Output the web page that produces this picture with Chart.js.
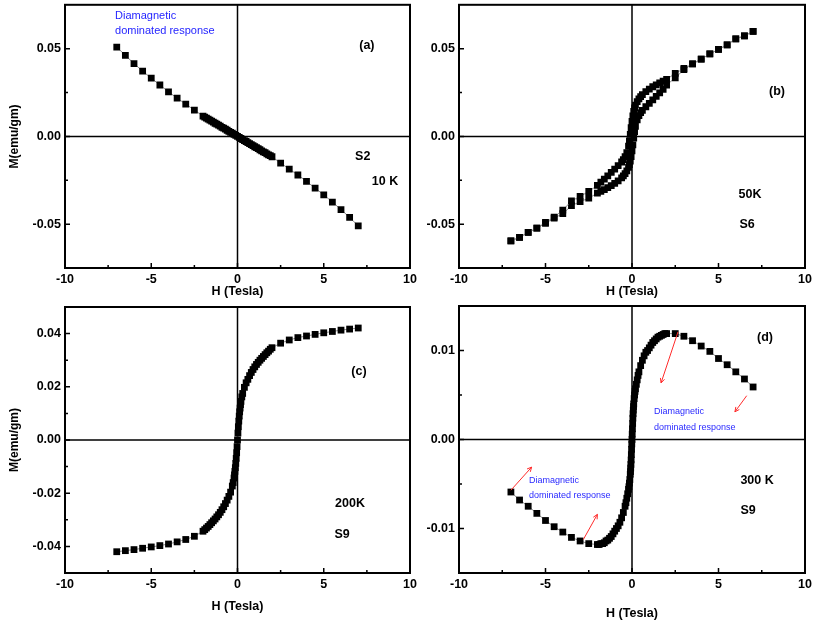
<!DOCTYPE html>
<html><head><meta charset="utf-8">
<script src="https://cdn.jsdelivr.net/npm/chart.js@4/dist/chart.umd.min.js"></script>
<style>
html,body{margin:0;padding:0;background:#fff;}
#wrap{position:relative;width:813px;height:623px;background:#fff;}
canvas{position:absolute;left:0;top:0;}
</style></head><body><div id="wrap">
<canvas id="ca" width="813" height="623"></canvas>
<canvas id="cb" width="813" height="623"></canvas>
<canvas id="cc" width="813" height="623"></canvas>
<canvas id="cd" width="813" height="623"></canvas>
</div>
<script>
// ---------- tick labels ----------
const xTicks = [-10, -5, 0, 5, 10];
const xTickLabels = ['-10', '-5', '0', '5', '10'];
const xMinorTicks = [-7.5, -2.5, 2.5, 7.5];

const abTicksY = [-0.05, 0, 0.05];
const abTickLabelsY = ['-0.05', '0.00', '0.05'];
const abMinorY = [-0.025, 0.025];

const cTicksY = [-0.04, -0.02, 0, 0.02, 0.04];
const cTickLabelsY = ['-0.04', '-0.02', '0.00', '0.02', '0.04'];
const cMinorY = [-0.03, -0.01, 0.01, 0.03];

const dTicksY = [-0.01, 0, 0.01];
const dTickLabelsY = ['-0.01', '0.00', '0.01'];
const dMinorY = [-0.005, 0.005];

// ---------- (a) S2, 10 K ----------
const aH = [-7,-6.5,-6,-5.5,-5,-4.5,-4,-3.5,-3,-2.5,-2,
  -1.9,-1.8,-1.7,-1.6,-1.5,-1.4,-1.3,-1.2,-1.1,-1,-0.9,-0.8,-0.7,-0.6,-0.5,-0.4,-0.3,-0.2,-0.1,
  0,0.1,0.2,0.3,0.4,0.5,0.6,0.7,0.8,0.9,1,1.1,1.2,1.3,1.4,1.5,1.6,1.7,1.8,1.9,
  2,2.5,3,3.5,4,4.5,5,5.5,6,6.5,7];
const aM = [0.0509,0.0462,0.0415,0.0372,0.0332,0.0293,0.0254,0.0218,0.0184,0.0150,0.0116,
  0.0110,0.0104,0.0098,0.0093,0.0087,0.0081,0.0075,0.0070,0.0064,0.0058,0.0052,0.0047,0.0041,0.0035,0.0029,0.0023,0.0018,0.0012,0.0006,
  0.0000,-0.0006,-0.0012,-0.0018,-0.0024,-0.0029,-0.0035,-0.0041,-0.0047,-0.0053,-0.0059,-0.0064,-0.0070,-0.0076,-0.0082,-0.0088,-0.0093,-0.0099,-0.0105,-0.0110,
  -0.0116,-0.0152,-0.0186,-0.0220,-0.0256,-0.0295,-0.0333,-0.0374,-0.0417,-0.0462,-0.0510];

// ---------- (b) S6, 50K (descending and ascending branches) ----------
const bDownH = [7,6.5,6,5.5,5,4.5,4,3.5,3,2.5,2,1.8,1.6,1.4,1.2,1,0.8,0.6,
  0.5,0.4,0.3,0.2,0.15,0.1,0.05,0,-0.05,-0.1,-0.15,-0.2,-0.3,-0.4,-0.5,-0.6,
  -0.8,-1,-1.2,-1.4,-1.6,-1.8,-2,-2.5,-3,-3.5,-4,-4.5,-5,-5.5,-6,-6.5,-7];
const bDownM = [0.0598,0.0573,0.0556,0.0522,0.0496,0.0470,0.0440,0.0413,0.0387,0.0359,0.0325,0.0315,0.0305,0.0294,0.0283,0.0270,0.0255,0.0238,
  0.0227,0.0214,0.0198,0.0178,0.0163,0.0143,0.0117,0.0085,0.0050,0.0012,-0.0025,-0.0055,-0.0092,-0.0116,-0.0133,-0.0146,
  -0.0167,-0.0186,-0.0205,-0.0225,-0.0243,-0.0261,-0.0279,-0.0314,-0.0342,-0.0368,-0.0420,-0.0460,-0.0490,-0.0523,-0.0547,-0.0575,-0.0596];
const bUpH = [-7,-6.5,-6,-5.5,-5,-4.5,-4,-3.5,-3,-2.5,-2,-1.8,-1.6,-1.4,-1.2,-1,-0.8,-0.6,
  -0.5,-0.4,-0.3,-0.2,-0.15,-0.1,-0.05,0,0.05,0.1,0.15,0.2,0.3,0.4,0.5,0.6,
  0.8,1,1.2,1.4,1.6,1.8,2,2.5,3,3.5,4,4.5,5,5.5,6,6.5,7];
const bUpM = [-0.0596,-0.0575,-0.0547,-0.0523,-0.0495,-0.0466,-0.0440,-0.0395,-0.0372,-0.0352,-0.0323,-0.0313,-0.0303,-0.0292,-0.0281,-0.0268,-0.0253,-0.0236,
  -0.0225,-0.0212,-0.0196,-0.0176,-0.0161,-0.0141,-0.0115,-0.0083,-0.0048,-0.0010,0.0027,0.0057,0.0094,0.0118,0.0135,0.0148,
  0.0169,0.0188,0.0208,0.0228,0.0248,0.0268,0.0293,0.0334,0.0380,0.0413,0.0440,0.0470,0.0496,0.0522,0.0556,0.0573,0.0598];

// ---------- (c) S9, 200K ----------
const cH = [-7,-6.5,-6,-5.5,-5,-4.5,-4,-3.5,-3,-2.5,-2,
  -1.9,-1.8,-1.7,-1.6,-1.5,-1.4,-1.3,-1.2,-1.1,-1,-0.9,-0.8,-0.7,-0.6,-0.5,-0.4,-0.3,
  -0.25,-0.2,-0.175,-0.15,-0.125,-0.1,-0.075,-0.05,-0.025,0,0.025,0.05,0.075,0.1,0.125,0.15,0.175,0.2,0.25,
  0.3,0.4,0.5,0.6,0.7,0.8,0.9,1,1.1,1.2,1.3,1.4,1.5,1.6,1.7,1.8,1.9,
  2,2.5,3,3.5,4,4.5,5,5.5,6,6.5,7];
const cM = [-0.0420,-0.0416,-0.0412,-0.0407,-0.0402,-0.0397,-0.0391,-0.0383,-0.0374,-0.0362,-0.0343,
  -0.0337,-0.0331,-0.0325,-0.0318,-0.0311,-0.0304,-0.0297,-0.0289,-0.0281,-0.0272,-0.0262,-0.0251,-0.0239,-0.0226,-0.0212,-0.0196,-0.0173,
  -0.0160,-0.0143,-0.0131,-0.0118,-0.0104,-0.0088,-0.0069,-0.0048,-0.0025,0.0000,0.0026,0.0050,0.0071,0.0090,0.0106,0.0120,0.0133,0.0145,0.0162,
  0.0175,0.0198,0.0215,0.0228,0.0242,0.0254,0.0265,0.0275,0.0284,0.0292,0.0300,0.0307,0.0314,0.0321,0.0328,0.0334,0.0341,
  0.0347,0.0364,0.0376,0.0385,0.0391,0.0397,0.0403,0.0408,0.0413,0.0417,0.0421];

// ---------- (d) S9, 300 K ----------
const dH = [-7,-6.5,-6,-5.5,-5,-4.5,-4,-3.5,-3,-2.5,-2,
  -1.9,-1.8,-1.7,-1.6,-1.5,-1.4,-1.3,-1.2,-1.1,-1,-0.9,-0.8,-0.7,-0.6,-0.5,
  -0.4,-0.35,-0.3,-0.25,-0.2,-0.175,-0.15,-0.125,-0.1,-0.0875,-0.075,-0.0625,-0.05,-0.0375,-0.025,-0.0125,0,
  0.0125,0.025,0.0375,0.05,0.0625,0.075,0.0875,0.1,0.125,0.15,0.175,0.2,0.25,0.3,0.35,0.4,
  0.5,0.6,0.7,0.8,0.9,1,1.1,1.2,1.3,1.4,1.5,1.6,1.7,1.8,1.9,
  2,2.5,3,3.5,4,4.5,5,5.5,6,6.5,7];
const dM = [-0.0059,-0.0068,-0.0075,-0.0083,-0.0091,-0.0098,-0.0104,-0.0110,-0.0114,-0.0117,-0.0118,
  -0.0118,-0.0117,-0.0117,-0.0116,-0.0114,-0.0113,-0.0111,-0.0109,-0.0106,-0.0103,-0.0100,-0.0097,-0.0093,-0.0088,-0.0082,
  -0.0075,-0.0071,-0.0066,-0.0061,-0.0056,-0.0053,-0.0049,-0.0045,-0.0039,-0.0036,-0.0032,-0.0028,-0.0023,-0.0017,-0.0011,-0.0005,0.0000,
  0.0006,0.0012,0.0018,0.0024,0.0029,0.0033,0.0037,0.0040,0.0046,0.0050,0.0054,0.0057,0.0062,0.0067,0.0072,0.0076,
  0.0083,0.0089,0.0094,0.0098,0.0100,0.0103,0.0106,0.0109,0.0111,0.0113,0.0115,0.0116,0.0117,0.0118,0.0119,
  0.0119,0.0119,0.0116,0.0111,0.0105,0.0099,0.0091,0.0084,0.0076,0.0068,0.0059];

// ---------- annotations (text, anchored in data coordinates) ----------
const aNotes = [
  {t:'Diamagnetic', x:-7.1, y:0.0684, kind:'blueA'},
  {t:'dominated response', x:-7.1, y:0.0600, kind:'blueA'},
  {t:'(a)', x:7.5, y:0.0518}, {t:'S2', x:7.26, y:-0.0116}, {t:'10 K', x:8.55, y:-0.026}
];
const bNotes = [
  {t:'(b)', x:8.38, y:0.0255}, {t:'50K', x:6.82, y:-0.033}, {t:'S6', x:6.65, y:-0.0505}
];
const cNotes = [
  {t:'(c)', x:7.04, y:0.0256}, {t:'200K', x:6.52, y:-0.024}, {t:'S9', x:6.06, y:-0.0357}
];
const dNotes = [
  {t:'(d)', x:7.69, y:0.0114},
  {t:'Diamagnetic', x:1.27, y:0.0032, kind:'blueD'},
  {t:'dominated response', x:1.27, y:0.0014, kind:'blueD'},
  {t:'Diamagnetic', x:-5.95, y:-0.0046, kind:'blueD'},
  {t:'dominated response', x:-5.95, y:-0.0063, kind:'blueD'},
  {t:'300 K', x:7.23, y:-0.0046}, {t:'S9', x:6.71, y:-0.008}
];
const dArrows = [
  [2.66, 0.0121, 1.68, 0.00636],
  [6.63, 0.00492, 5.95, 0.00311],
  [-7.0, -0.0057, -5.8, -0.0031],
  [-2.81, -0.01123, -2.0, -0.00841]
];

// ---------- drawing ----------
const FONT = '"Liberation Sans", Arial, Helvetica, sans-serif';
const YW = 60;

const panels = [
  {id:'ca', area:[65,1,410,268], xh:31, yMin:-0.075, yMax:0.075, yTicks:abTicksY, yLabels:abTickLabelsY, yMinor:abMinorY, yTitle:true,
   series:[[aH,aM]], notes:aNotes, arrows:[]},
  {id:'cb', area:[459,1,805,268], xh:31, yMin:-0.075, yMax:0.075, yTicks:abTicksY, yLabels:abTickLabelsY, yMinor:abMinorY, yTitle:false,
   series:[[bDownH,bDownM],[bUpH,bUpM]], notes:bNotes, arrows:[]},
  {id:'cc', area:[65,307,410,573], xh:41, yMin:-0.05, yMax:0.05, yTicks:cTicksY, yLabels:cTickLabelsY, yMinor:cMinorY, yTitle:true,
   series:[[cH,cM]], notes:cNotes, arrows:[]},
  {id:'cd', area:[459,306,805,573], xh:48, yMin:-0.015, yMax:0.015, yTicks:dTicksY, yLabels:dTickLabelsY, yMinor:dMinorY, yTitle:false,
   series:[[dH,dM]], notes:dNotes, arrows:dArrows}
];

function makePlugin(p) {
  return {
    id: 'frame_' + p.id,
    beforeDatasetsDraw(chart) {
      const {ctx, chartArea: ca, scales: {x, y}} = chart;
      ctx.save();
      ctx.strokeStyle = '#000';
      ctx.lineWidth = 1.5;
      const x0 = x.getPixelForValue(0), y0 = y.getPixelForValue(0);
      ctx.beginPath();
      ctx.moveTo(x0, ca.top); ctx.lineTo(x0, ca.bottom);
      ctx.moveTo(ca.left, y0); ctx.lineTo(ca.right, y0);
      ctx.stroke();
      ctx.restore();
    },
    afterDatasetsDraw(chart) {
      const {ctx, chartArea: ca, scales: {x, y}} = chart;
      ctx.save();
      ctx.strokeStyle = '#000';
      ctx.lineWidth = 2;
      ctx.strokeRect(ca.left, ca.top, ca.right - ca.left, ca.bottom - ca.top);
      ctx.lineWidth = 1.5;
      ctx.beginPath();
      xTicks.forEach(v => { const px = x.getPixelForValue(v); ctx.moveTo(px, ca.bottom); ctx.lineTo(px, ca.bottom - 5); });
      xMinorTicks.forEach(v => { const px = x.getPixelForValue(v); ctx.moveTo(px, ca.bottom); ctx.lineTo(px, ca.bottom - 3); });
      p.yTicks.forEach(v => { const py = y.getPixelForValue(v); ctx.moveTo(ca.left, py); ctx.lineTo(ca.left + 5, py); });
      p.yMinor.forEach(v => { const py = y.getPixelForValue(v); ctx.moveTo(ca.left, py); ctx.lineTo(ca.left + 3, py); });
      ctx.stroke();

      // arrows
      ctx.strokeStyle = '#ff2b2b';
      ctx.lineWidth = 1;
      p.arrows.forEach(a => {
        const x1 = x.getPixelForValue(a[0]), y1 = y.getPixelForValue(a[1]);
        const x2 = x.getPixelForValue(a[2]), y2 = y.getPixelForValue(a[3]);
        const ang = Math.atan2(y2 - y1, x2 - x1);
        ctx.beginPath();
        ctx.moveTo(x1, y1); ctx.lineTo(x2, y2);
        ctx.moveTo(x2, y2); ctx.lineTo(x2 - 5 * Math.cos(ang - 0.45), y2 - 5 * Math.sin(ang - 0.45));
        ctx.moveTo(x2, y2); ctx.lineTo(x2 - 5 * Math.cos(ang + 0.45), y2 - 5 * Math.sin(ang + 0.45));
        ctx.stroke();
      });

      // notes
      ctx.textBaseline = 'middle';
      p.notes.forEach(n => {
        const px = x.getPixelForValue(n.x), py = y.getPixelForValue(n.y);
        if (n.kind === 'blueA') {
          ctx.font = '11px ' + FONT; ctx.fillStyle = '#1f1fff'; ctx.textAlign = 'left';
        } else if (n.kind === 'blueD') {
          ctx.font = '9px ' + FONT; ctx.fillStyle = '#2a2aff'; ctx.textAlign = 'left';
        } else {
          ctx.font = 'bold 12.5px ' + FONT; ctx.fillStyle = '#000'; ctx.textAlign = 'center';
        }
        ctx.fillText(n.t, px, py);
      });
      ctx.restore();
    }
  };
}

panels.forEach(p => {
  const [L, T, R, B] = p.area;
  const tickFont = {family: FONT, size: 12.5, weight: 'bold'};
  new Chart(document.getElementById(p.id), {
    type: 'scatter',
    data: {
      datasets: p.series.map(s => ({
        data: s[0].map((h, i) => ({x: h, y: s[1][i]})),
        showLine: true,
        borderColor: '#8c8c8c',
        borderWidth: 1,
        pointStyle: 'rect',
        pointRadius: 4.8,
        pointHoverRadius: 4.8,
        pointBackgroundColor: '#000',
        pointBorderColor: '#000',
        pointBorderWidth: 0,
        tension: 0
      }))
    },
    options: {
      responsive: false,
      animation: false,
      devicePixelRatio: 1,
      events: [],
      layout: {padding: {left: L - YW, top: T, right: 813 - R, bottom: 623 - B - p.xh}},
      plugins: {legend: {display: false}, tooltip: {enabled: false}},
      scales: {
        x: {
          type: 'linear', position: 'bottom', min: -10, max: 10,
          afterBuildTicks: s => { s.ticks = xTicks.map(v => ({value: v})); },
          afterFit: s => { s.height = p.xh; s.paddingLeft = 0; s.paddingRight = 0; },
          grid: {display: false, drawTicks: false}, border: {display: false},
          ticks: {autoSkip: false, maxRotation: 0, padding: 4, color: '#000', font: tickFont,
                  callback: (v, i) => xTickLabels[i]},
          title: {display: true, text: 'H (Tesla)', color: '#000', font: tickFont, padding: 0}
        },
        y: {
          type: 'linear', position: 'left', min: p.yMin, max: p.yMax,
          afterBuildTicks: s => { s.ticks = p.yTicks.map(v => ({value: v})); },
          afterFit: s => { s.width = YW; s.paddingTop = 0; s.paddingBottom = 0; },
          grid: {display: false, drawTicks: false}, border: {display: false},
          ticks: {autoSkip: false, padding: 4, color: '#000', font: tickFont,
                  callback: (v, i) => p.yLabels[i]},
          title: {display: p.yTitle, text: 'M(emu/gm)', color: '#000',
                  font: {family: FONT, size: 12, weight: 'bold'}, padding: {top: 2, bottom: 0}}
        }
      }
    },
    plugins: [makePlugin(p)]
  });
});
</script>
</body></html>
